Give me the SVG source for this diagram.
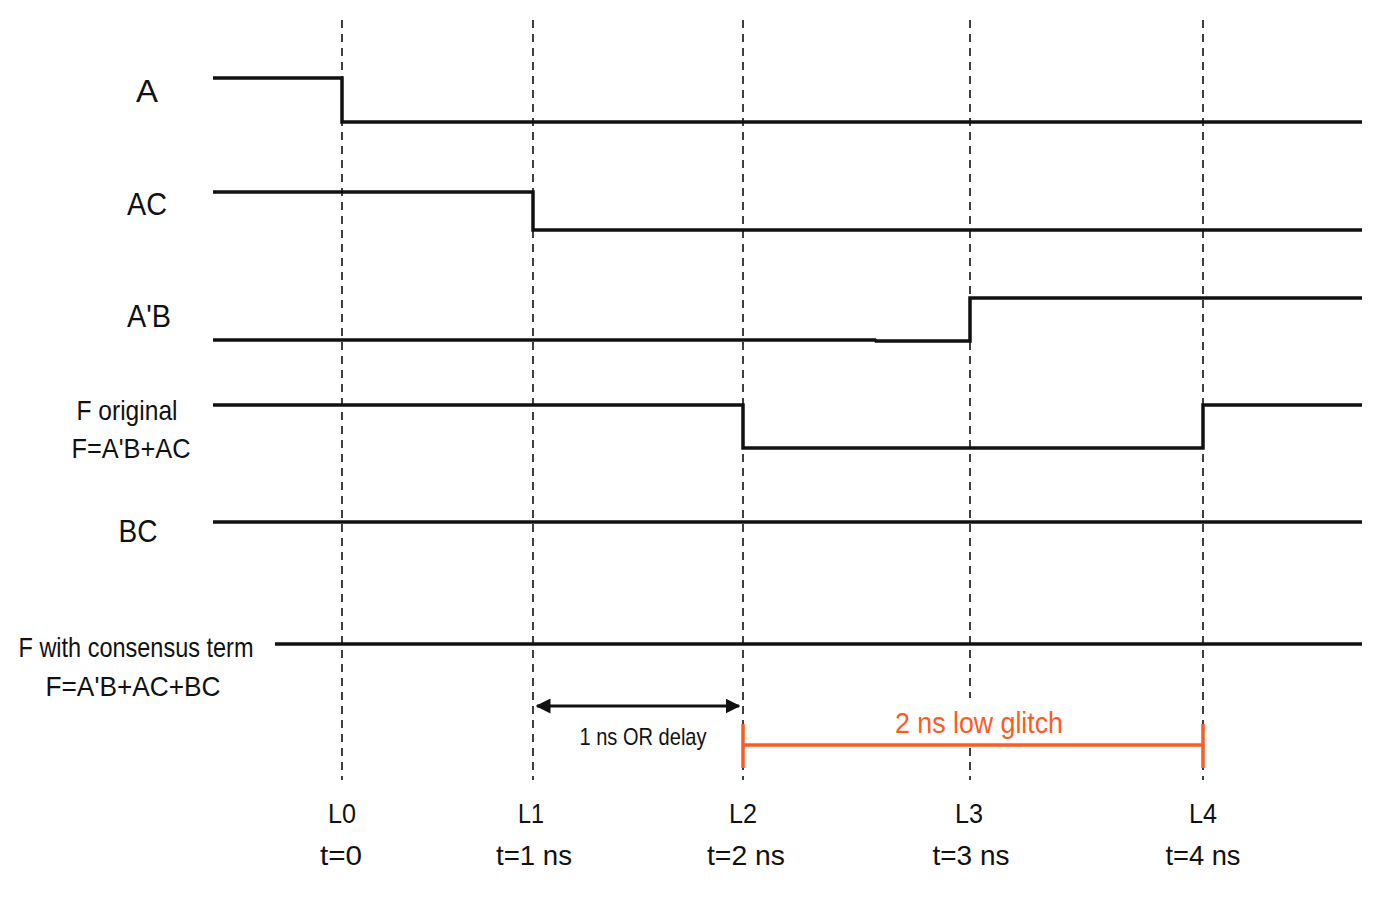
<svg xmlns="http://www.w3.org/2000/svg" width="1400" height="900" viewBox="0 0 1400 900">
<defs>
<style>
.t{font-family:"Liberation Sans",Arial,sans-serif;fill:#111;text-anchor:middle}
.lbl{font-size:32px}
.ax{font-size:28px}
.w{fill:none;stroke:#111;stroke-width:3.5;stroke-linejoin:miter}
.d{stroke:#111;stroke-width:1.6;stroke-dasharray:8 6}
.o{stroke:#FF5A1F;stroke-width:3.5;fill:none}
</style>
<marker id="ah" viewBox="0 0 10 10" refX="9" refY="5" markerWidth="5" markerHeight="5" orient="auto-start-reverse" markerUnits="strokeWidth">
<path d="M0,0 L10,5 L0,10 z" fill="#111"/>
</marker>
</defs>
<rect width="1400" height="900" fill="#fff"/>
<g id="gridlines">
<line class="d" x1="342" y1="20" x2="342" y2="780"/>
<line class="d" x1="533" y1="20" x2="533" y2="780"/>
<line class="d" x1="743" y1="20" x2="743" y2="780"/>
<line class="d" x1="970" y1="20" x2="970" y2="780"/>
<line class="d" x1="1203" y1="20" x2="1203" y2="780"/>
</g>
<g id="sig-A">
<text class="t lbl" x="147" y="102" textLength="22" lengthAdjust="spacingAndGlyphs">A</text>
<polyline class="w" points="213,78 342,78 342,122 1362,122"/>
</g>
<g id="sig-AC">
<text class="t lbl" x="147" y="215" textLength="40" lengthAdjust="spacingAndGlyphs">AC</text>
<polyline class="w" points="213,192 533,192 533,230 1362,230"/>
</g>
<g id="sig-ApB">
<text class="t lbl" x="149" y="327" textLength="44" lengthAdjust="spacingAndGlyphs">A'B</text>
<polyline class="w" points="213,340 875,340 876,341 970,341 970,298 1362,298"/>
</g>
<g id="sig-F">
<text class="t ax" x="127" y="420" textLength="101" lengthAdjust="spacingAndGlyphs">F original</text>
<text class="t ax" x="131" y="458" textLength="119" lengthAdjust="spacingAndGlyphs">F=A'B+AC</text>
<polyline class="w" points="213,405 743,405 743,448 1203,448 1203,405 1362,405"/>
</g>
<g id="sig-BC">
<text class="t lbl" x="138" y="542" textLength="39" lengthAdjust="spacingAndGlyphs">BC</text>
<polyline class="w" points="213,522 1362,522"/>
</g>
<g id="sig-Fc">
<text class="t ax" x="136" y="657" textLength="235" lengthAdjust="spacingAndGlyphs">F with consensus term</text>
<text class="t ax" x="133" y="696" textLength="175" lengthAdjust="spacingAndGlyphs">F=A'B+AC+BC</text>
<polyline class="w" points="275,644 1362,644"/>
</g>
<g id="connectors">
<line x1="537" y1="706" x2="739" y2="706" stroke="#111" stroke-width="3" marker-start="url(#ah)" marker-end="url(#ah)"/>
<line class="o" x1="743" y1="745" x2="1203" y2="745"/>
<line class="o" x1="743" y1="724" x2="743" y2="768"/>
<line class="o" x1="1203" y1="724" x2="1203" y2="768"/>
</g>
<g id="notes">
<text class="t" style="font-size:24px" x="643" y="745" textLength="127" lengthAdjust="spacingAndGlyphs">1 ns OR delay</text>
<rect x="890" y="698" width="178" height="44" fill="#fff"/>
<text class="t" style="font-size:30px;fill:#FF5A1F" x="979" y="733" textLength="168" lengthAdjust="spacingAndGlyphs">2 ns low glitch</text>
</g>
<g id="axis">
<text class="t ax" x="342" y="823" textLength="28" lengthAdjust="spacingAndGlyphs">L0</text>
<text class="t ax" x="341" y="865" textLength="42" lengthAdjust="spacingAndGlyphs">t=0</text>
<text class="t ax" x="531" y="823" textLength="26" lengthAdjust="spacingAndGlyphs">L1</text>
<text class="t ax" x="534" y="865" textLength="76" lengthAdjust="spacingAndGlyphs">t=1 ns</text>
<text class="t ax" x="743" y="823" textLength="28" lengthAdjust="spacingAndGlyphs">L2</text>
<text class="t ax" x="746" y="865" textLength="78" lengthAdjust="spacingAndGlyphs">t=2 ns</text>
<text class="t ax" x="969" y="823" textLength="28" lengthAdjust="spacingAndGlyphs">L3</text>
<text class="t ax" x="971" y="865" textLength="77" lengthAdjust="spacingAndGlyphs">t=3 ns</text>
<text class="t ax" x="1203" y="823" textLength="28" lengthAdjust="spacingAndGlyphs">L4</text>
<text class="t ax" x="1203" y="865" textLength="75" lengthAdjust="spacingAndGlyphs">t=4 ns</text>
</g>
</svg>
